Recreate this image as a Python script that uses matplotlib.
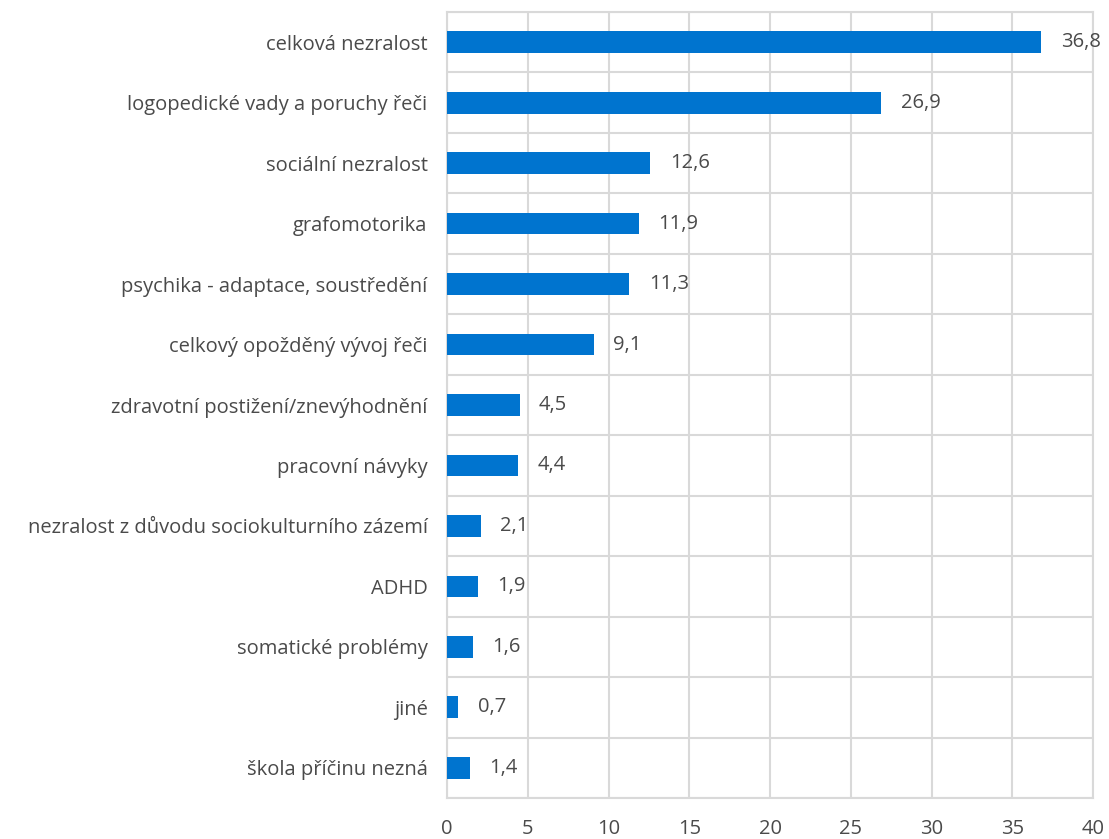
import numpy as np
import matplotlib.pyplot as plt

categories = [
    'celková nezralost',
    'logopedické vady a poruchy řeči',
    'sociální nezralost',
    'grafomotorika',
    'psychika - adaptace, soustředění',
    'celkový opožděný vývoj řeči',
    'zdravotní postižení/znevýhodnění',
    'pracovní návyky',
    'nezralost z důvodu sociokulturního zázemí',
    'ADHD',
    'somatické problémy',
    'jiné',
    'škola příčinu nezná',
]
values = [36.8, 26.9, 12.6, 11.9, 11.3, 9.1, 4.5, 4.4, 2.1, 1.9, 1.6, 0.7, 1.4]
x_ticks = [0, 5, 10, 15, 20, 25, 30, 35, 40]

bar_color = '#0074CF'
grid_color = '#D9D9D9'
text_color = '#4A4A4A'

plt.rcParams['font.family'] = ['Open Sans', 'DejaVu Sans']
plt.rcParams['font.size'] = 14.5

fig = plt.figure(figsize=(11.09, 8.39), dpi=100)
ax = fig.add_axes([447 / 1109, 1 - 798 / 839, (1093 - 447) / 1109, (798 - 12) / 839])

y = np.arange(len(categories))
ax.barh(y, values, height=0.36, color=bar_color, zorder=3)
for yi, v in zip(y, values):
    ax.text(v + 1.2, yi, f'{v:.1f}'.replace('.', ','), va='center', ha='left',
            color=text_color, fontsize=14.5)

ax.set_xlim(0, 40)
ax.set_ylim(len(categories) - 0.5, -0.5)
ax.set_xticks(x_ticks)
ax.set_xticklabels([str(t) for t in x_ticks])
ax.set_yticks(y)
ax.set_yticklabels(categories)
ax.set_yticks(np.arange(-0.5, len(categories), 1), minor=True)

ax.tick_params(axis='both', which='both', length=0, colors=text_color)
ax.tick_params(axis='x', pad=15)
ax.tick_params(axis='y', pad=14)
ax.grid(axis='x', which='major', color=grid_color, linewidth=1.5, zorder=0)
ax.grid(axis='y', which='minor', color=grid_color, linewidth=1.5, zorder=0)
for s in ax.spines.values():
    s.set_color(grid_color)
    s.set_linewidth(1.5)

plt.savefig('out.png', dpi=100)
